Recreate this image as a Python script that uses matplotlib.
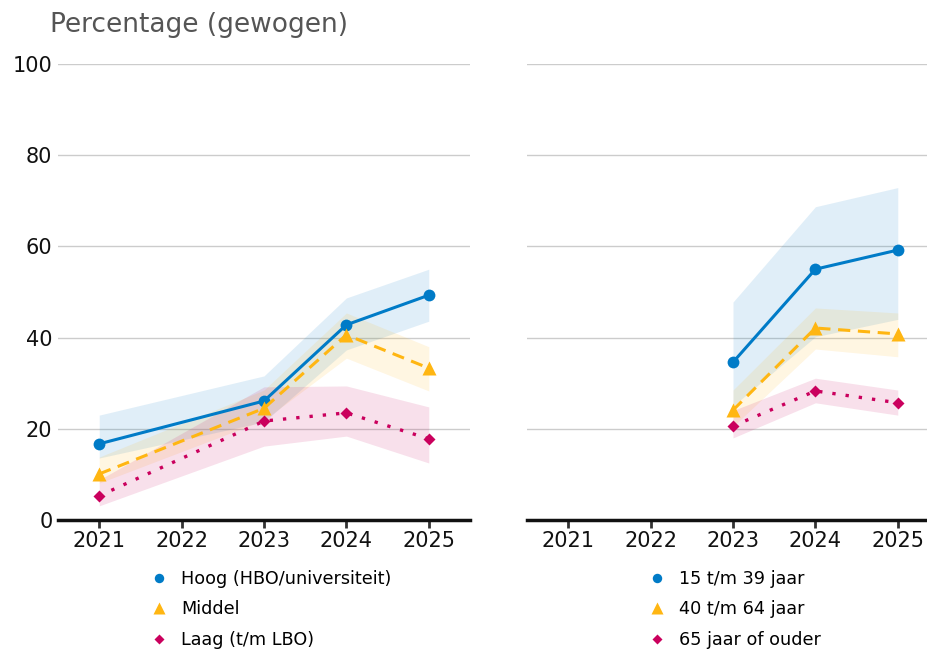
import matplotlib.pyplot as plt
from matplotlib.lines import Line2D

# Education level panel
years_edu = [2021, 2023, 2024, 2025]
hoog = [16.7, 26.1, 42.8, 49.3]
hoog_lo = [13.6, 21.5, 37.3, 43.6]
hoog_hi = [23.0, 31.6, 48.7, 55.0]
middel = [10.1, 24.5, 40.6, 33.3]
middel_lo = [8.1, 21.9, 35.5, 28.3]
middel_hi = [13.8, 28.5, 45.4, 38.0]
laag = [5.3, 21.7, 23.5, 17.8]
laag_lo = [3.1, 16.2, 18.4, 12.5]
laag_hi = [8.8, 29.2, 29.4, 24.8]

# Age group panel
years_age = [2023, 2024, 2025]
jong = [34.6, 55.0, 59.2]
jong_lo = [25.0, 40.2, 44.0]
jong_hi = [47.8, 68.7, 72.9]
midden = [24.1, 42.1, 40.8]
midden_lo = [20.5, 37.5, 35.8]
midden_hi = [28.5, 46.5, 45.4]
oud = [20.6, 28.3, 25.7]
oud_lo = [18.0, 25.7, 23.0]
oud_hi = [24.0, 31.1, 28.5]

xticks = [2021, 2022, 2023, 2024, 2025]
yticks = [0, 20, 40, 60, 80, 100]
labels_edu = ["Hoog (HBO/universiteit)", "Middel", "Laag (t/m LBO)"]
labels_age = ["15 t/m 39 jaar", "40 t/m 64 jaar", "65 jaar of ouder"]

BLUE = "#007BC7"
YELLOW = "#FFB612"
PINK = "#CA005D"

plt.rcParams['font.family'] = ['DejaVu Sans']

W, H = 928, 652
fig = plt.figure(figsize=(W / 100, H / 100), dpi=100)

def px_axes(x0, x1, y_top, y_bot):
    return fig.add_axes([x0 / W, 1 - y_bot / H, (x1 - x0) / W, (y_bot - y_top) / H])

ax1 = px_axes(58, 470, 64, 520)
ax2 = px_axes(527, 939, 64, 520)

styles = [
    dict(color=BLUE, ls="-", marker="o", ms=8.5, lw=2.2),
    dict(color=YELLOW, ls=(0, (4, 2.5)), marker="^", ms=10, lw=2.2),
    dict(color=PINK, ls=(0, (1, 3)), marker="D", ms=6, lw=2.4),
]

def draw(ax, x, series, ylabels=True):
    for (y, lo, hi), st in zip(series, styles):
        ax.fill_between(x, lo, hi, color=st["color"], alpha=0.12, lw=0)
    for (y, lo, hi), st in zip(series, styles):
        ax.plot(x, y, color=st["color"], ls=st["ls"], lw=st["lw"],
                marker=st["marker"], ms=st["ms"], mec="none", zorder=3)
    ax.set_xlim(2020.5, 2025.5)
    ax.set_ylim(0, 100)
    ax.set_xticks(xticks)
    ax.set_yticks(yticks)
    ax.grid(axis="y", color="#cccccc", lw=1)
    ax.set_axisbelow(True)
    for s in ["top", "right", "left"]:
        ax.spines[s].set_visible(False)
    ax.spines["bottom"].set_linewidth(2.5)
    ax.spines["bottom"].set_color("#111111")
    ax.tick_params(axis="x", length=6, width=2, color="#333333",
                   labelsize=15, pad=2, labelcolor="#111111")
    ax.tick_params(axis="y", length=0, labelsize=15, pad=4,
                   labelcolor="#111111", labelleft=ylabels)

draw(ax1, years_edu, [(hoog, hoog_lo, hoog_hi), (middel, middel_lo, middel_hi),
                      (laag, laag_lo, laag_hi)])
draw(ax2, years_age, [(jong, jong_lo, jong_hi), (midden, midden_lo, midden_hi),
                      (oud, oud_lo, oud_hi)], ylabels=False)

fig.text(50 / W, 1 - 25 / H, "Percentage (gewogen)", fontsize=19,
         color="#555555", va="center", ha="left")

def legend(ax, labels, x_px, y_top_px):
    handles = [Line2D([], [], color=st["color"], ls="none", marker=st["marker"],
                      ms=st["ms"] * 0.8, mec="none") for st in styles]
    fig.legend(handles, labels, loc="upper left",
               bbox_to_anchor=(x_px / W, 1 - y_top_px / H),
               frameon=False, fontsize=12.7, handlelength=1.0,
               handletextpad=0.75, labelspacing=0.7, borderaxespad=0,
               borderpad=0)

legend(ax1, labels_edu, 150, 570)
legend(ax2, labels_age, 648, 570)

fig.savefig("out.png", dpi=100)
